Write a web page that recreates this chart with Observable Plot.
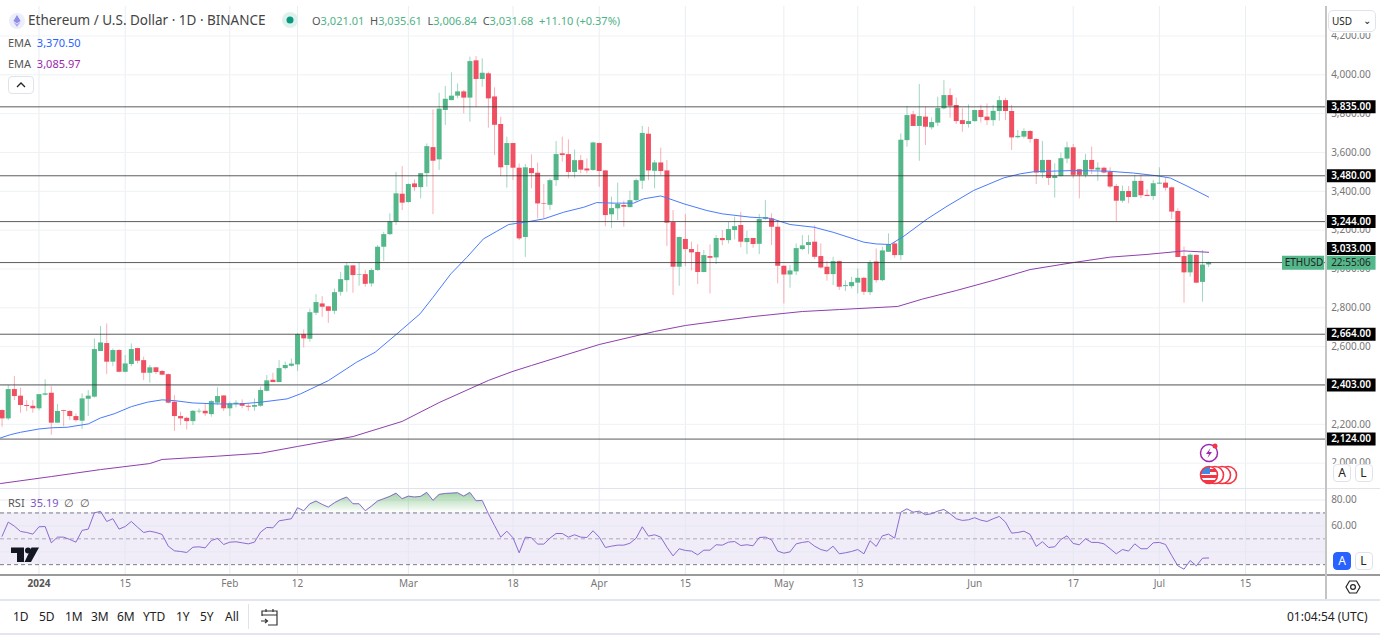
<!DOCTYPE html>
<html><head><meta charset="utf-8">
<script src="https://cdn.jsdelivr.net/npm/d3@7"></script>
<script src="https://cdn.jsdelivr.net/npm/@observablehq/plot@0.6"></script>
<style>
html,body{margin:0;background:#fff}
#root{position:relative;width:1380px;height:635px;overflow:hidden;font-family:"Noto Sans",sans-serif;color:#333}
#root>*{position:absolute}
.t{white-space:nowrap;line-height:1}
.btn{box-sizing:border-box;border:1px solid #e0e3eb;border-radius:4px;background:#fff;text-align:center;font-size:12px;line-height:16px;width:18px;height:18px;color:#222}
.tb{top:611px;font-size:12px;color:#222;line-height:1;white-space:nowrap}
</style></head><body><div id="root"></div>
<script>
const firstDay = -6;
const opens = [2271,2228,2379,2345,2297,2293,2280,2350,2360,2206,
2271,2266,2240,2216,2329,2340,2575,2616,2520,2580,
2468,2508,2590,2528,2463,2491,2472,2456,2314,2240,
2231,2214,2264,2267,2250,2309,2346,2280,2302,2307,
2293,2288,2293,2370,2427,2415,2487,2499,2506,2662,
2638,2772,2820,2805,2782,2880,2940,3016,2968,2971,
2923,2992,3112,3177,3242,3385,3342,3438,3419,3491,
3625,3562,3816,3867,3890,3912,3880,4072,3976,4005,
3886,3744,3533,3646,3519,3162,3517,3493,3335,3328,
3455,3593,3589,3497,3558,3515,3507,3646,3505,3279,
3310,3327,3316,3352,3452,3694,3503,3546,3505,3239,
3009,3152,3100,3085,2982,3064,3057,3157,3146,3198,
3224,3136,3157,3127,3256,3258,3215,3014,2969,2985,
3100,3121,3138,3064,3009,2971,3038,2909,2909,2927,
2952,2878,3036,2940,3086,3129,3069,3661,3794,3734,
3782,3727,3751,3825,3893,3842,3764,3744,3759,3816,
3782,3764,3811,3867,3811,3676,3679,3708,3667,3494,
3559,3466,3477,3566,3624,3511,3482,3559,3509,3519,
3499,3425,3349,3399,3368,3451,3379,3373,3437,3442,
3418,3296,3064,2980,3070,2931,3021.01];
const highs = [2275,2400,2446,2386,2322,2322,2353,2429,2394,2302,
2272,2271,2254,2357,2374,2640,2704,2717,2588,2585,
2554,2614,2592,2546,2503,2492,2477,2460,2348,2262,
2237,2271,2279,2305,2322,2388,2348,2314,2322,2326,
2305,2331,2391,2451,2463,2528,2520,2537,2668,2686,
2793,2868,2858,2805,2897,2983,3030,3018,3030,2992,
3000,3120,3189,3284,3497,3527,3438,3459,3491,3644,
3819,3905,3940,4010,3953,3919,4091,4094,4082,4013,
3933,3782,3679,3647,3541,3538,3588,3545,3435,3464,
3656,3679,3665,3613,3584,3567,3653,3648,3507,3370,
3442,3349,3400,3464,3734,3730,3558,3622,3558,3301,
3164,3280,3138,3124,3095,3124,3172,3198,3241,3267,
3292,3194,3157,3280,3352,3284,3249,3016,3018,3129,
3172,3172,3222,3129,3038,3060,3040,2939,2957,3000,
2957,3043,3103,3112,3181,3138,3696,3837,3812,3950,
3833,3778,3885,3970,3928,3881,3825,3845,3818,3842,
3850,3842,3888,3879,3842,3713,3722,3713,3671,3657,
3560,3542,3597,3653,3641,3512,3590,3628,3547,3525,
3521,3435,3427,3425,3482,3482,3408,3456,3521,3465,
3422,3310,3113,3078,3072,3095,3035.61];
const lows = [2185,2219,2322,2257,2265,2257,2270,2346,2144,2206,
2188,2219,2211,2173,2240,2335,2575,2456,2497,2465,
2465,2497,2511,2425,2412,2456,2450,2305,2164,2194,
2171,2194,2254,2240,2237,2297,2266,2240,2285,2280,
2267,2267,2288,2367,2415,2415,2480,2494,2472,2593,
2623,2760,2751,2720,2765,2860,2880,2875,2911,2906,
2906,2988,3038,3172,3224,3301,3339,3399,3361,3421,
3280,3507,3739,3867,3876,3799,3756,3833,3936,3725,
3584,3476,3416,3455,3146,3060,3413,3258,3258,3301,
3425,3550,3464,3467,3490,3490,3503,3421,3218,3208,
3249,3215,3315,3344,3409,3455,3413,3481,3115,2863,
2911,3012,2990,2920,2980,2872,3023,3120,3129,3150,
3109,3074,3107,3074,3250,3121,2923,2820,2901,2966,
3095,3074,3048,3000,2937,2915,2889,2884,2897,2872,
2863,2863,2927,2935,3086,3055,3043,3627,3733,3555,
3636,3716,3734,3819,3776,3744,3704,3725,3756,3751,
3739,3735,3761,3764,3610,3670,3671,3648,3435,3465,
3430,3365,3473,3542,3465,3361,3468,3487,3451,3490,
3413,3245,3339,3336,3367,3363,3373,3353,3435,3401,
3255,3059,2824,2958,2924,2829,3006.84];
const closes = [2228,2379,2343,2297,2292,2280,2353,2357,2206,2266,
2267,2240,2219,2331,2345,2585,2619,2520,2580,2468,
2511,2585,2525,2463,2491,2467,2453,2309,2240,2228,
2214,2267,2267,2254,2317,2343,2280,2305,2309,2293,
2288,2297,2374,2424,2415,2487,2503,2510,2662,2640,
2775,2827,2803,2782,2878,2945,3016,2966,2971,2921,
2992,3112,3177,3242,3387,3339,3435,3419,3491,3630,
3555,3823,3874,3890,3912,3880,4068,3976,4008,3876,
3740,3521,3646,3519,3155,3521,3491,3335,3332,3455,
3589,3584,3497,3558,3509,3505,3649,3502,3275,3311,
3332,3318,3352,3455,3698,3505,3546,3502,3236,3009,
3162,3100,3083,2982,3069,3055,3157,3146,3203,3218,
3138,3157,3126,3255,3265,3215,3014,2969,2990,3105,
3119,3136,3060,3005,2971,3038,2906,2914,2930,2952,
2880,3031,2940,3093,3126,3069,3663,3790,3734,3785,
3730,3754,3826,3893,3838,3759,3744,3759,3816,3780,
3764,3812,3867,3811,3675,3683,3708,3667,3494,3559,
3466,3477,3568,3624,3482,3482,3559,3511,3519,3494,
3422,3349,3399,3368,3451,3377,3373,3439,3442,3416,
3293,3059,2980,3071,2927,3020,3031.68];
const rsiValues = [52,62.9,59.8,55.7,54.9,53.6,59.3,59.5,46.9,51.3,
51.3,49.5,47.4,56.5,57.5,70.1,71.2,63.4,65.5,57.5,
59.5,63.4,59,54.9,55.9,54.9,53.4,44.3,40.7,40.2,
39.4,43.5,43.8,43,48.7,50.3,45.6,47.4,47.7,46.9,
46.1,47.4,55.2,58.8,58.5,63.9,64.7,65.5,74,71.7,
77.1,79.2,76.6,74.5,77.9,80.4,82.3,77.1,77.1,71.7,
75.3,79.2,81,82.8,85.3,81,83,82.3,82.8,85.9,
79.7,84.3,85.1,85.3,85.6,83,85.9,79.4,79.7,69.4,
60.3,51.3,55.9,50.8,39.2,51.3,50.8,45.9,45.9,50.5,
54.1,54.1,51.3,53.1,51.3,51,56.2,51.3,43.3,44.3,
45.1,45.1,46.6,50.5,59.3,52.1,53.1,51.3,43.5,36.8,
42.3,41,40.5,37.6,41.2,41.2,45.4,45.1,47.4,47.9,
44.8,45.4,44.6,51,51.3,49.2,40.5,38.9,39.9,46.1,
47.2,47.9,44.3,41.7,40.5,44.3,38.4,39.2,40.2,41.7,
38.4,48.5,44.1,52.3,53.6,50.5,70.6,73.2,70.6,71.4,
68.6,69.4,71.4,72.7,69.4,65.5,64.2,64.7,66.3,64.4,
63.4,65.5,67.3,62.9,54.4,54.9,55.9,53.4,44.1,47.7,
43.3,43.8,49.5,52.3,46.4,45.4,50,47.2,47.2,46.1,
42.3,38.4,41.7,40.5,46.1,42.3,42.3,46.9,47.2,45.6,
37.1,29.1,26.5,33.2,29.1,35,35.19];
const emaFastDays = [-6.25,-4.6,-3,0,2,4.6,8,10,12.2,15,17.6,20,22,25,29,32.7,36,40.3,42.5,47,51.6,54.6,58,61.9,64,66.9,69.5,72.2,74.3,76.3,79,82,85.2,88.5,90.6,93.4,96.6,98.2,101,102,104.8,108.5,111,115.5,118.8,122,125.9,129,134,136,138.3,140.5,144.3,147.5,151.8,156.7,159.4,161.6,168,173.5,177.8,181.6,183.8,186.5,190];
const emaFastValues = [2130,2147,2159,2176,2182,2185,2202,2233,2254,2291,2314,2326,2322,2310,2305,2305,2314,2331,2357,2425,2520,2571,2662,2769,2854,2975,3060,3155,3193,3229,3241,3258,3292,3318,3342,3339,3339,3361,3376,3366,3335,3301,3284,3267,3261,3229,3215,3189,3138,3129,3126,3169,3258,3323,3404,3469,3490,3501,3507,3504,3494,3480,3468,3427,3370.5];
const emaSlowDays = [-6.25,2,10,18,20,29,36,42,51,59,65,73,77,80,91,100,105,116,124,130,139.5,143.5,149,155,161,168,174,180,186,190];
const emaSlowValues = [1895,1931,1967,1998,2019,2036,2051,2086,2137,2215,2312,2426,2473,2503,2611,2678,2709,2755,2781,2791,2807,2845,2889,2941,2997,3033,3061,3075,3093,3085.97];
const levels = [3835,3480,3244,3033,2664,2403,2124];
const levelShift = [0,0,0,-14,0,0,0];
const priceTicks = [2000,2200,2400,2600,2800,3000,3200,3400,3600,3800,4000,4200];
const rsiTicks = [80,60];
const rsiGrid = [80,60,40];
const rsiLines = [70,50,30];
const timeDays = [0,14,31,42,60,77,91,105,121,133,152,168,182,196];
const timeLabels = ["2024","15","Feb","12","Mar","18","Apr","15","May","13","Jun","17","Jul","15"];
const periods = ["1D","5D","1M","3M","6M","YTD","1Y","5Y","All"];
const lastPrice = 3031.68;

const date = d => new Date(Date.UTC(2024,0,1) + d*864e5);
const candles = opens.map((o,i)=>({date:date(firstDay+i),open:o,high:highs[i],low:lows[i],close:closes[i],rsi:rsiValues[i]}));
const up = candles.filter(d=>d.close>=d.open), down = candles.filter(d=>d.close<d.open);
const fast = emaFastDays.map((d,i)=>({date:date(d),v:emaFastValues[i]}));
const slow = emaSlowDays.map((d,i)=>({date:date(d),v:emaSlowValues[i]}));
const levelRows = levels.map((v,i)=>({v,dy:levelShift[i]}));
const fmt = d3.format(",.2f");
const GREEN="#53b78a", RED="#ef4f60", GRID="#eef2f6", FONT='"Noto Sans",sans-serif';
const xScale = {type:"utc",domain:[date(-6.254),date(217.92)],range:[0,1380]};
const axisX = date(209), labelEnd = date(217.2), tagStart = date(202), labelX = date(209.9), frameStart = date(-6.254);
const timeRows = timeDays.map((d,i)=>({date:date(d),label:timeLabels[i]}));

const main = Plot.plot({
  width:1380,height:488,marginTop:6,marginBottom:0,marginLeft:0,marginRight:0,
  style:{fontFamily:FONT,background:"transparent"},
  x:{...xScale,axis:null},
  y:{domain:[1869.5,4346.6],range:[488,7],axis:null},
  marks:[
    Plot.ruleX(timeRows,{x:"date",stroke:"#e8eef3"}),
    Plot.ruleY(priceTicks,{y:d=>d,x1:()=>frameStart,x2:()=>axisX,stroke:GRID}),
    Plot.text(priceTicks,{y:d=>d,x:()=>labelX,text:d=>fmt(d),textAnchor:"start",fill:"#777",fontSize:10}),
    Plot.ruleX(up,{x:"date",y1:"low",y2:"high",stroke:GREEN,strokeOpacity:.55}),
    Plot.ruleX(down,{x:"date",y1:"low",y2:"high",stroke:RED,strokeOpacity:.45}),
    Plot.ruleX(up,{x:"date",y1:"open",y2:"close",stroke:GREEN,strokeWidth:5}),
    Plot.ruleX(down,{x:"date",y1:"open",y2:"close",stroke:RED,strokeWidth:5}),
    Plot.line(fast,{x:"date",y:"v",stroke:"#4a7bfb",strokeWidth:1}),
    Plot.line(slow,{x:"date",y:"v",stroke:"#8e3fae",strokeWidth:1}),
    Plot.ruleY(levels,{y:d=>d,x1:()=>frameStart,x2:()=>axisX,stroke:"#333",strokeOpacity:.8}),
    Plot.ruleY(levelRows,{y:"v",dy:d=>0,x1:()=>axisX,x2:()=>labelEnd,stroke:"#000",strokeWidth:0}),
    Plot.ruleY(levelRows.filter(d=>!d.dy),{y:"v",x1:()=>axisX,x2:()=>labelEnd,stroke:"#000",strokeWidth:13}),
    Plot.ruleY(levelRows.filter(d=>d.dy),{y:"v",dy:-14,x1:()=>axisX,x2:()=>labelEnd,stroke:"#000",strokeWidth:13}),
    Plot.text(levelRows.filter(d=>!d.dy),{y:"v",x:()=>labelX,text:d=>fmt(d.v),textAnchor:"start",fill:"#fff",fontSize:10,fontWeight:600}),
    Plot.text(levelRows.filter(d=>d.dy),{y:"v",dy:-14,x:()=>labelX,text:d=>fmt(d.v),textAnchor:"start",fill:"#fff",fontSize:10,fontWeight:600}),
    Plot.ruleY([lastPrice],{y:d=>d,x1:()=>tagStart,x2:()=>date(208.85),stroke:GREEN,strokeWidth:14}),
    Plot.ruleY([lastPrice],{y:d=>d,x1:()=>axisX,x2:()=>labelEnd,stroke:GREEN,strokeWidth:14}),
    Plot.text(["ETHUSD"],{y:()=>lastPrice,x:()=>date(205.5),text:d=>d,fill:"#222",fontSize:10}),
    Plot.text(["22:55:06"],{y:()=>lastPrice,x:()=>labelX,text:d=>d,textAnchor:"start",fill:"#222",fontSize:10})
  ]
});
main.style.cssText += ";left:0;top:0;";

const rsi = Plot.plot({
  width:1380,height:112,marginTop:0,marginBottom:26,marginLeft:0,marginRight:0,
  style:{fontFamily:FONT,background:"transparent"},
  x:{...xScale,axis:null},
  y:{domain:[22.4,88.9],range:[86,0],axis:null},
  marks:[
    () => {
      const defs = d3.create("svg:defs");
      const g = defs.append("linearGradient").attr("id","rsi-ob").attr("x1",0).attr("x2",0).attr("y1",0).attr("y2",1);
      g.append("stop").attr("offset","0%").attr("stop-color","#8fcb94").attr("stop-opacity",.85);
      g.append("stop").attr("offset","100%").attr("stop-color","#8fcb94").attr("stop-opacity",0);
      return defs.node();
    },
    Plot.rect([0],{x1:()=>frameStart,x2:()=>axisX,y1:()=>30,y2:()=>70,fill:"#7e57c2",fillOpacity:.115}),
    Plot.ruleX(timeRows,{x:"date",stroke:"#e4e9f0"}),
    Plot.ruleY(rsiGrid,{y:d=>d,x1:()=>frameStart,x2:()=>axisX,stroke:"#e6e9f2"}),
    Plot.ruleY(rsiLines.filter(d=>d!==50),{y:d=>d,x1:()=>frameStart,x2:()=>axisX,stroke:"#787b86",strokeDasharray:"4 3"}),
    Plot.ruleY([50],{y:d=>d,x1:()=>frameStart,x2:()=>axisX,stroke:"#b0a9bd",strokeDasharray:"4 3"}),
    Plot.areaY(candles,{x:"date",y1:()=>70,y2:d=>Math.max(d.rsi,70),fill:"url(#rsi-ob)"}),
    Plot.line(candles,{x:"date",y:"rsi",stroke:"#8a6cd0",strokeWidth:1}),
    Plot.text(rsiTicks,{y:d=>d,x:()=>labelX,text:d=>fmt(d),textAnchor:"start",fill:"#777",fontSize:10}),
    Plot.text(timeRows.slice(1),{x:"date",frameAnchor:"bottom",dy:12,text:"label",fill:"#777",fontSize:10}),
    Plot.text(timeRows.slice(0,1),{x:"date",frameAnchor:"bottom",dy:12,text:"label",fill:"#555",fontSize:10,fontWeight:700})
  ]
});
rsi.style.cssText += ";left:0;top:488px;";

const root = document.getElementById("root");
root.append(main);
root.append(rsi);
const tbX = [12,38,64,90,116,142,175,199,224];
const overlay = `
<div style="left:0;top:488px;width:1380px;height:1px;background:#e0e3eb"></div>
<div style="left:0;top:574px;width:1380px;height:1.5px;background:#9a9a9a"></div>
<div style="left:0;top:599px;width:1380px;height:1.5px;background:#e3e6ee"></div>
<div style="left:0;top:633px;width:1380px;height:1.5px;background:#e3e6ee"></div>
<div style="left:1325px;top:6px;width:1.5px;height:593px;background:#c4c4c4"></div>
<div style="left:1327px;top:0;width:53px;height:33px;background:#fff"></div>
<div style="left:1327px;top:464px;width:53px;height:24px;background:#fff"></div>
<div class="btn" style="left:1328px;top:10px;width:48px;height:22px;line-height:20px;font-size:10px;text-align:left;padding-left:3px;border-radius:5px">USD<span style="position:absolute;right:4px;top:-1px;font-size:10px">⌄</span></div>
<svg style="left:8px;top:12px" width="18" height="18" viewBox="0 0 18 18"><circle cx="9" cy="9" r="8" fill="#eceefc"/><path d="M9 3 5.4 9 9 11.2 12.6 9Z" fill="#8c8fe8"/><path d="M5.4 9.8 9 15 12.6 9.8 9 12Z" fill="#b4a7f0"/></svg>
<div class="t" style="left:28px;top:14px;font-size:13.5px;color:#444" id="ttl">Ethereum / U.S. Dollar · 1D · BINANCE</div>
<svg style="left:282px;top:12px" width="16" height="16"><circle cx="8" cy="8" r="8" fill="#dff1ec"/><circle cx="8" cy="8" r="3.5" fill="#089981"/></svg>
<div class="t" style="left:312px;top:15px;font-size:11px;color:#4fb286" id="ohlc"><span style="color:#555">O</span>3,021.01 &nbsp;<span style="color:#555">H</span>3,035.61 &nbsp;<span style="color:#555">L</span>3,006.84 &nbsp;<span style="color:#555">C</span>3,031.68 &nbsp;+11.10 (+0.37%)</div>
<div class="t" style="left:8px;top:37px;font-size:11px;color:#555">EMA &nbsp;<span style="color:#2962ff">3,370.50</span></div>
<div class="t" style="left:8px;top:58px;font-size:11px;color:#555">EMA &nbsp;<span style="color:#9c27b0">3,085.97</span></div>
<div class="btn" style="left:8px;top:76px;width:26px;height:18px"><svg width="12" height="8" style="margin-top:4px;display:block;margin-left:6px"><path d="M2 6 6 2 10 6" fill="none" stroke="#222" stroke-width="1.3"/></svg></div>
<div class="t" style="left:8px;top:497px;font-size:11px;color:#555">RSI &nbsp;<span style="color:#7e57c2">35.19</span> &nbsp;∅ &nbsp;∅</div>
<svg style="left:10px;top:546px" width="30" height="18"><path d="M1 1.5H14V16H7V7H1Z" fill="#131722"/><circle cx="18" cy="4.5" r="3" fill="#131722"/><path d="M21.5 1.5H29L21 16H14.5Z" fill="#131722"/></svg>
<svg style="left:1198px;top:441px" width="22" height="22"><circle cx="11" cy="12" r="8.5" fill="none" stroke="#9c27b0" stroke-width="1.5"/><path d="M12.5 7 8 13H11L9.5 17 14 11H11Z" fill="#9c27b0"/><circle cx="17" cy="5" r="2.5" fill="#f23645"/></svg>
<svg style="left:1198px;top:464px" width="42" height="22"><g stroke="#f23645" stroke-width="1.6" fill="#fff"><circle cx="30" cy="11" r="8.5"/><circle cx="24" cy="11" r="8.5"/><circle cx="17" cy="11" r="8.5"/></g><clipPath id="fl"><circle cx="11" cy="11" r="8.5"/></clipPath><g clip-path="url(#fl)"><rect x="1" y="1" width="22" height="22" fill="#fff"/><rect x="1" y="5" width="22" height="3" fill="#f23645"/><rect x="1" y="11" width="22" height="3" fill="#f23645"/><rect x="1" y="16" width="22" height="3" fill="#f23645"/><rect x="1" y="1" width="11" height="9" fill="#3f8ae0"/></g><circle cx="11" cy="11" r="8.5" fill="none" stroke="#f23645" stroke-width="1.6"/></svg>
<div class="btn" style="left:1333px;top:464px">A</div><div class="btn" style="left:1354.5px;top:464px">L</div>
<div class="btn" style="left:1333px;top:552px;background:#2962ff;border-color:#2962ff;color:#fff">A</div><div class="btn" style="left:1354.5px;top:552px">L</div>
<svg style="left:1345px;top:579px" width="16" height="16"><path d="M4.5 2H11.500L15 8 11.500 14H4.500L1 8Z" fill="none" stroke="#222" stroke-width="1.2"/><circle cx="8" cy="8" r="2.400" fill="none" stroke="#222" stroke-width="1.2"/></svg>
<div style="left:248px;top:604px;width:1px;height:25px;background:#e0e3eb"></div>
<svg style="left:260px;top:607px" width="20" height="20"><path d="M2 9V4H17V18H8M2 8H17M6 2V5M13 2V5M1 14H7M5 12 7.500 14 5 16" fill="none" stroke="#333" stroke-width="1.200"/></svg>
<div class="t" style="left:1287px;top:611px;font-size:12px;color:#222" id="clock">01:04:54 (UTC)</div>
` + periods.map((p,i)=>`<div class="tb" style="left:${tbX[i]+1}px">${p}</div>`).join("");
root.insertAdjacentHTML("beforeend",overlay);
</script></body></html>
